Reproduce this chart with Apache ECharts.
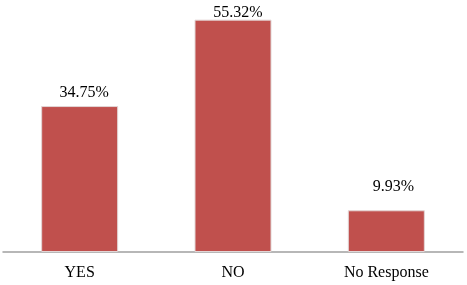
<!DOCTYPE html>
<html>
<head>
<meta charset="utf-8">
<script src="https://cdn.jsdelivr.net/npm/echarts@6/dist/echarts.min.js"></script>
<style>
html,body{margin:0;padding:0;background:#fff;}
#c{width:467px;height:285px;}
</style>
</head>
<body>
<div id="c"></div>
<script>
const categories = ['YES', 'NO', 'No Response'];
const values = [34.75, 55.32, 9.93];
const labelTexts = ['34.75%', '55.32%', '9.93%'];

const labelOffsets = [[4.5, 0], [5, 6], [7, -10]];

const chart = echarts.init(document.getElementById('c'), null, {renderer: 'canvas'});
chart.setOption({
  animation: false,
  backgroundColor: '#ffffff',
  grid: {left: 3, right: 4, top: 0, bottom: 33},
  xAxis: {
    type: 'category',
    data: categories,
    axisLine: {show: true, lineStyle: {color: '#a0a0a0', width: 1.5}},
    axisTick: {show: false},
    axisLabel: {color: '#000', fontFamily: 'Liberation Serif', fontSize: 16, margin: 13}
  },
  yAxis: {
    type: 'value', min: 0, max: 60, show: false,
    splitLine: {show: false}
  },
  series: [{
    type: 'bar',
    barWidth: 77,
    data: values.map((v, i) => ({
      value: v,
      label: {offset: labelOffsets[i], formatter: labelTexts[i]}
    })),
    itemStyle: {
      color: '#C0504D',
      borderColor: '#e2d6d6',
      borderWidth: 1
    },
    label: {
      show: true, position: 'top', distance: 5,
      color: '#000', fontFamily: 'Liberation Serif', fontSize: 16
    }
  }]
});
</script>
</body>
</html>
